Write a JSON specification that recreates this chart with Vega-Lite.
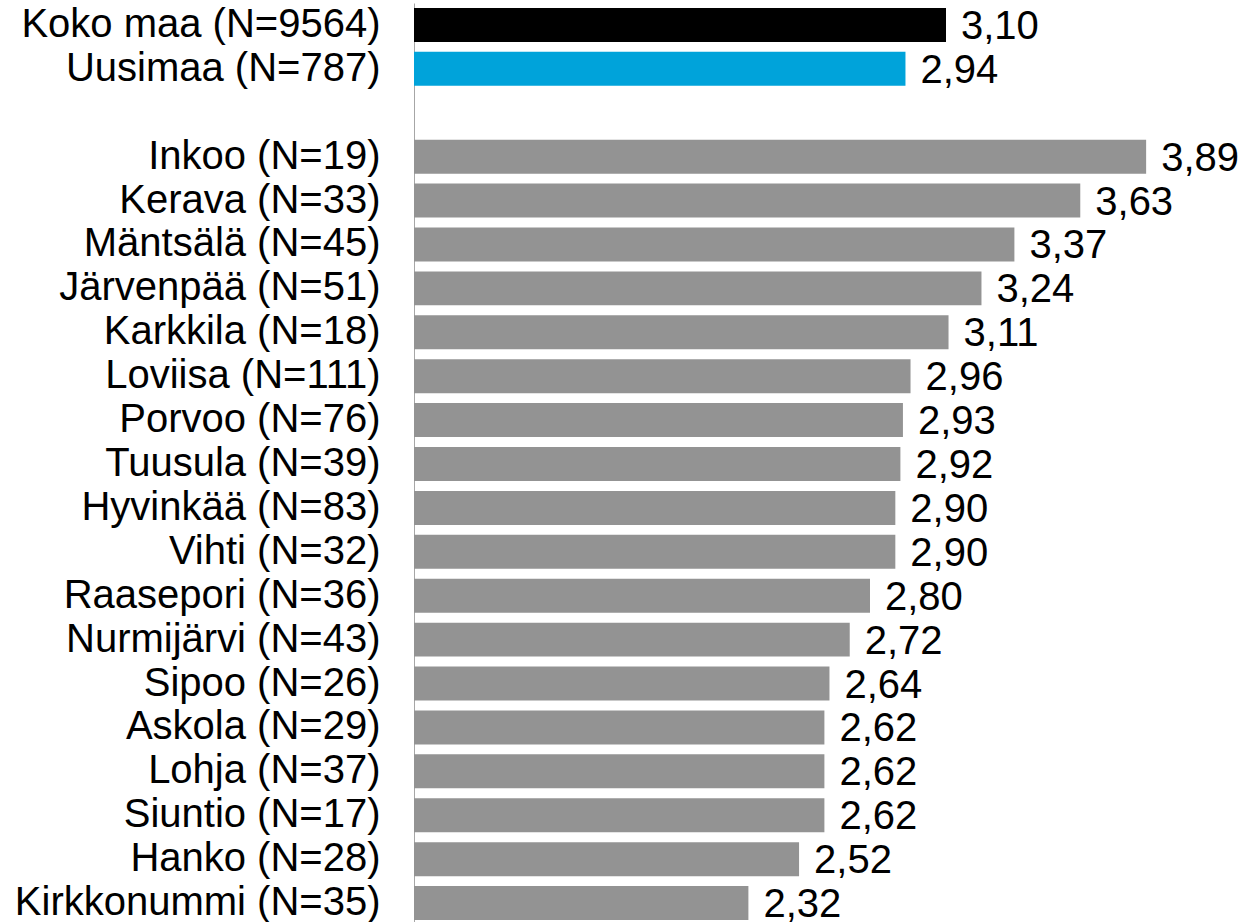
{
  "$schema": "https://vega.github.io/schema/vega-lite/v6.json",
  "autosize": "none",
  "padding": {"left": 414, "top": 3, "right": 74, "bottom": 0},
  "width": 760,
  "height": 922,
  "background": "white",
  "config": {
    "view": {"stroke": null},
    "font": "Liberation Sans",
    "locale": {"number": {"decimal": ",", "thousands": " ", "grouping": [3], "currency": ["", " €"]}}
  },
  "data": {
    "values": [
      {"alue": "Koko maa (N=9564)", "arvo": 3.10, "ryhma": "koko"},
      {"alue": "Uusimaa (N=787)", "arvo": 2.94, "ryhma": "maakunta"},
      {"alue": "Inkoo (N=19)", "arvo": 3.89, "ryhma": "kunta"},
      {"alue": "Kerava (N=33)", "arvo": 3.63, "ryhma": "kunta"},
      {"alue": "Mäntsälä (N=45)", "arvo": 3.37, "ryhma": "kunta"},
      {"alue": "Järvenpää (N=51)", "arvo": 3.24, "ryhma": "kunta"},
      {"alue": "Karkkila (N=18)", "arvo": 3.11, "ryhma": "kunta"},
      {"alue": "Loviisa (N=111)", "arvo": 2.96, "ryhma": "kunta"},
      {"alue": "Porvoo (N=76)", "arvo": 2.93, "ryhma": "kunta"},
      {"alue": "Tuusula (N=39)", "arvo": 2.92, "ryhma": "kunta"},
      {"alue": "Hyvinkää (N=83)", "arvo": 2.90, "ryhma": "kunta"},
      {"alue": "Vihti (N=32)", "arvo": 2.90, "ryhma": "kunta"},
      {"alue": "Raasepori (N=36)", "arvo": 2.80, "ryhma": "kunta"},
      {"alue": "Nurmijärvi (N=43)", "arvo": 2.72, "ryhma": "kunta"},
      {"alue": "Sipoo (N=26)", "arvo": 2.64, "ryhma": "kunta"},
      {"alue": "Askola (N=29)", "arvo": 2.62, "ryhma": "kunta"},
      {"alue": "Lohja (N=37)", "arvo": 2.62, "ryhma": "kunta"},
      {"alue": "Siuntio (N=17)", "arvo": 2.62, "ryhma": "kunta"},
      {"alue": "Hanko (N=28)", "arvo": 2.52, "ryhma": "kunta"},
      {"alue": "Kirkkonummi (N=35)", "arvo": 2.32, "ryhma": "kunta"}
    ]
  },
  "encoding": {
    "y": {
      "field": "alue",
      "type": "nominal",
      "sort": null,
      "scale": {
        "domain": ["Koko maa (N=9564)", "Uusimaa (N=787)", " ", "Inkoo (N=19)", "Kerava (N=33)", "Mäntsälä (N=45)", "Järvenpää (N=51)", "Karkkila (N=18)", "Loviisa (N=111)", "Porvoo (N=76)", "Tuusula (N=39)", "Hyvinkää (N=83)", "Vihti (N=32)", "Raasepori (N=36)", "Nurmijärvi (N=43)", "Sipoo (N=26)", "Askola (N=29)", "Lohja (N=37)", "Siuntio (N=17)", "Hanko (N=28)", "Kirkkonummi (N=35)"],
        "paddingInner": 0.226,
        "paddingOuter": 0.113
      },
      "axis": {
        "title": null,
        "ticks": false,
        "tickSize": 0,
        "labelPadding": 34,
        "labelFontSize": 40,
        "labelColor": "#000000",
        "labelFont": "Liberation Sans",
        "labelLimit": 500,
        "domainColor": "#a6a6a6",
        "domainWidth": 1
      }
    },
    "x": {
      "field": "arvo",
      "type": "quantitative",
      "scale": {"domain": [1, 4], "zero": false, "nice": false},
      "axis": null
    }
  },
  "layer": [
    {
      "mark": {"type": "bar", "clip": false},
      "encoding": {
        "x2": {"datum": 1},
        "color": {
          "field": "ryhma",
          "type": "nominal",
          "scale": {"domain": ["koko", "maakunta", "kunta"], "range": ["#000000", "#00A3DA", "#939393"]},
          "legend": null
        }
      }
    },
    {
      "mark": {"type": "text", "align": "left", "baseline": "middle", "dx": 15, "dy": 2, "fontSize": 40, "font": "Liberation Sans", "color": "#000000"},
      "encoding": {
        "text": {"field": "arvo", "type": "quantitative", "format": ".2f"}
      }
    }
  ]
}
